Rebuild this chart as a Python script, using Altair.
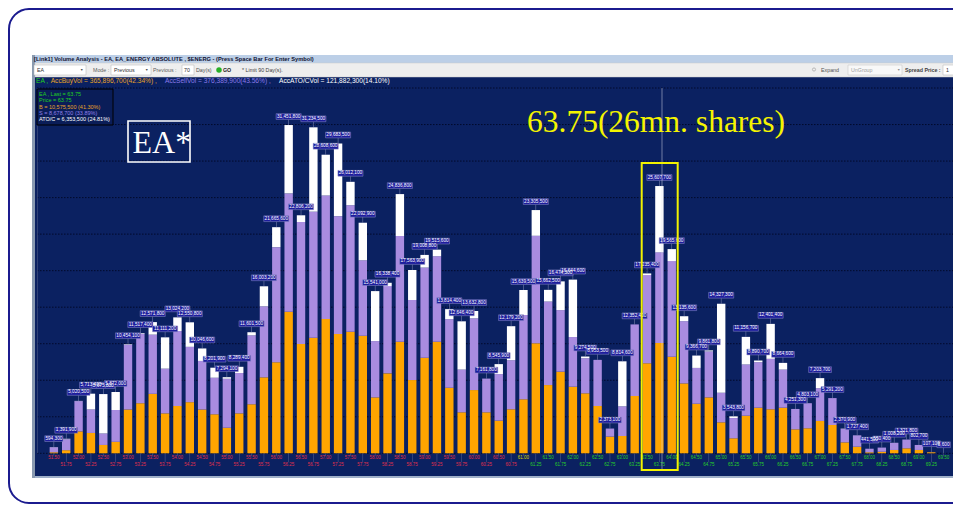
import altair as alt
import pandas as pd

# ---------------- data ----------------
price_labels = ["51.50", "51.75", "52.00", "52.25", "52.50", "52.75", "53.00", "53.25", "53.50", "53.75",
                "54.00", "54.25", "54.50", "54.75", "55.00", "55.25", "55.50", "55.75", "56.00", "56.25",
                "56.50", "56.75", "57.00", "57.25", "57.50", "57.75", "58.00", "58.25", "58.50", "58.75",
                "59.00", "59.25", "59.50", "59.75", "60.00", "60.25", "60.50", "60.75", "61.00", "61.25",
                "61.50", "61.75", "62.00", "62.25", "62.50", "62.75", "63.00", "63.25", "63.50", "63.75",
                "64.00", "64.25", "64.50", "64.75", "65.00", "65.25", "65.50", "65.75", "66.00", "66.25",
                "66.50", "66.75", "67.00", "67.25", "67.50", "67.75", "68.00", "68.25", "68.50", "68.75",
                "69.00", "69.25", "69.50"]

total_vol = [594300, 1391900, 5020500, 5713400, 5675800, 5872000, 10454100, 11517400, 12571800, 11111200,
             13024200, 12550800, 10046600, 8201900, 7294100, 8289400, 11601500, 16003200, 21665600, 31451800,
             22806200, 31234500, 28608600, 29683500, 26012100, 22092900, 15541000, 16338400, 24836800, 17563900,
             19008800, 19515600, 13814400, 12646400, 13632800, 7161800, 8545900, 12179200, 15639500, 23305500,
             15662500, 16474300, 16644600, 9274500, 8953500, 2373100, 8814600, 12352400, 17235400, 25607700,
             19565600, 13135600, 9366700, 9861800, 14327300, 3543800, 11156700, 8890700, 12401400, 8664600,
             4251300, 4803100, 7203700, 5291200, 2370900, 1727400, 441500, 550400, 1008200, 1321800,
             802700, 107100, 5600]

buy_vol = [100000, 300000, 2100000, 1950000, 800000, 1100000, 4200000, 4800000, 5700000, 3830000,
           4530000, 4900000, 4200000, 3740000, 2450000, 3830000, 4700000, 7280000, 8720000, 13560000,
           10470000, 11070000, 12860000, 11430000, 11650000, 11260000, 5360000, 7660000, 10690000, 7020000,
           9160000, 10690000, 6280000, 3930000, 6060000, 3930000, 3130000, 4220000, 5170000, 10540000,
           6540000, 7820000, 6380000, 5750000, 4530000, 1600000, 1660000, 5490000, 8620000, 10575500,
           9250000, 6700000, 4750000, 5360000, 2970000, 1440000, 3600000, 4370000, 4220000, 4370000,
           2300000, 2400000, 3100000, 2710000, 1050000, 630000, 100000, 150000, 320000, 480000,
           320000, 100000, 3000]

sell_vol = [480000, 1050000, 2900000, 2250000, 1100000, 3050000, 6200000, 6650000, 5670000, 4280000,
            7190000, 5300000, 4650000, 3500000, 4690000, 3860000, 6600000, 6800000, 11030000, 11340000,
            11690000, 12080000, 11840000, 11290000, 12120000, 7230000, 5390000, 8360000, 10130000, 7670000,
            8630000, 8190000, 6570000, 4090000, 6870000, 3230000, 4460000, 4700000, 8070000, 10300000,
            8000000, 5900000, 4760000, 3360000, 4420000, 770000, 2840000, 6860000, 8460000, 8678700,
            9170000, 5960000, 3430000, 4400000, 2830000, 1940000, 4910000, 4360000, 4830000, 3650000,
            1950000, 2400000, 3140000, 2580000, 1300000, 1090000, 340000, 400000, 680000, 840000,
            480000, 7000, 2600]

grid_values = [0, 3500000, 7000000, 10500000, 14000000, 17500000, 21000000, 24500000, 28000000, 31500000, 35000000]
last_price = 61.00  # reference (yellow) price on the axis

header_title = "[Link1] Volume Analysis - EA, EA_ENERGY ABSOLUTE , $ENERG - (Press Space Bar For Enter Symbol)"
stat_buy = "AccBuyVol = 365,896,700(42.34%) ,"
stat_sell = "AccSellVol = 376,389,900(43.56%) ,"
stat_ato = "AccATO/CVol = 121,882,300(14.10%)"
info_lines = ["EA , Last = 63.75", "Price = 63.75", "B = 10,575,500 (41.30%)",
              "S = 8,678,700 (33.89%)", "ATO/C = 6,353,500 (24.81%)"]
annotation = "63.75(26mn. shares)"

# ---------------- tables ----------------
rows = []
seg_rows = []
for i, lab in enumerate(price_labels):
    p = float(lab)
    t, b, s = total_vol[i], buy_vol[i], sell_vol[i]
    txt = f"{t:,}"
    pc = "lo" if p < last_price else ("eq" if p == last_price else "hi")
    rows.append({"price": p, "plabel": lab, "total": t, "label": txt, "nlen": str(len(txt)),
                 "row": i % 2, "pc": pc, "zero": 0})
    seg_rows.append({"price": p, "seg": "buy", "y0": 0, "y1": b})
    seg_rows.append({"price": p, "seg": "sell", "y0": b, "y1": b + s})
    seg_rows.append({"price": p, "seg": "ato", "y0": b + s, "y1": t})
df = pd.DataFrame(rows)
segs = pd.DataFrame(seg_rows)
grid_df = pd.DataFrame({"v": grid_values})
info_df = pd.DataFrame({"line": info_lines, "k": list(range(len(info_lines)))})

W, H = 945, 497
xs = alt.Scale(domain=[50.6733, 69.5885], nice=False, zero=False)
ys = alt.Scale(domain=[-4953000, 42666000], nice=False, zero=False)

one = pd.DataFrame({"k": [0]})
UI = "Liberation Sans"


def rect(x, y, x2, y2, **kw):
    return alt.Chart(one).mark_rect(**kw).encode(
        x=alt.value(x), y=alt.value(y), x2=alt.value(x2), y2=alt.value(y2))


def label(x, y, s, size=5.3, color="#303030", **kw):
    return alt.Chart(one).mark_text(text=s, align="left", baseline="middle", font=UI,
                                    fontSize=size, color=color, **kw).encode(
        x=alt.value(x), y=alt.value(y))


layers = []
# outer rounded frame
layers.append(rect(1, 1, 975, 495, fill="transparent", stroke="#1b1b8f", strokeWidth=2, cornerRadius=20))
# application window
layers.append(rect(24, 47, 953, 470, fill="#0b2161"))
layers.append(rect(24, 47, 27, 470, fill="#8a9ab0"))
layers.append(rect(27, 47, 953, 55, fill="#bccfe7"))
layers.append(rect(946, 47, 953, 54, fill="#1830a0"))
layers.append(label(26, 51, header_title, size=5.7, color="#101030", fontWeight="bold"))
layers.append(rect(27, 55, 953, 69, fill="#eeeeee", stroke="#c8c8c8", strokeWidth=0.5))
layers.append(rect(27, 468, 953, 470, fill="#9fb0c8"))
# toolbar controls
layers.append(rect(26, 57, 78, 67, fill="white", stroke="#b0b0b0", strokeWidth=0.5))
layers.append(label(29, 62, "EA"))
layers.append(label(72, 62, "▼", size=3.5, color="#505050"))
layers.append(label(85, 62, "Mode :", color="#606060"))
layers.append(rect(103, 57, 143, 67, fill="white", stroke="#b0b0b0", strokeWidth=0.5))
layers.append(label(106, 62, "Previous"))
layers.append(label(137, 62, "▼", size=3.5, color="#505050"))
layers.append(label(145, 62, "Previous :", color="#606060"))
layers.append(rect(174, 57, 186, 67, fill="white", stroke="#b0b0b0", strokeWidth=0.5))
layers.append(label(176, 62, "70"))
layers.append(label(188, 62, "Day(s)", color="#505050"))
layers.append(alt.Chart(one).mark_point(shape="circle", filled=True, color="#28b028", size=30, opacity=1).encode(
    x=alt.value(211), y=alt.value(62)))
layers.append(label(215, 62, "GO", fontWeight="bold", color="#202020"))
layers.append(label(234, 62, "* Limit 90 Day(s).", color="#404040"))
layers.append(alt.Chart(one).mark_point(shape="circle", filled=False, color="#909090", size=10, strokeWidth=0.8).encode(
    x=alt.value(806), y=alt.value(61.5)))
layers.append(label(813, 62, "Expand", color="#505050"))
layers.append(rect(840, 57, 894, 67, fill="#f8f8f8", stroke="#c0c0c0", strokeWidth=0.5))
layers.append(label(843, 62, "UnGroup", color="#a0a0a0"))
layers.append(label(889, 62, "▼", size=3.5, color="#909090"))
layers.append(label(897, 62, "Spread Price :", color="#404040", fontWeight="bold"))
layers.append(rect(935, 57, 960, 67, fill="white", stroke="#b0b0b0", strokeWidth=0.5))
layers.append(label(938, 62, "1"))
# accumulated stats line
layers.append(label(28, 73, "EA ,", size=6.6, color="#20d020"))
layers.append(label(42.7, 73, stat_buy, size=6.6, color="#e8a428"))
layers.append(label(157, 73, stat_sell, size=6.6, color="#8a7ae8"))
layers.append(label(271, 73, stat_ato, size=6.6, color="#ffffff"))

# grid and y axis line
layers.append(alt.Chart(grid_df).mark_rule(color="#020a2c", strokeWidth=1, strokeDash=[1.5, 1.5]).encode(
    y=alt.Y("v:Q", scale=ys, axis=None), x=alt.value(29), x2=alt.value(945)))
layers.append(rect(29, 80, 29.8, 445.3, fill="#3a4a7a"))

# info box
layers.append(rect(29, 81, 105, 117, fill="#0a1d58", stroke="#000000", strokeWidth=1))
layers.append(alt.Chart(info_df).mark_text(align="left", baseline="middle", font=UI, fontSize=5.5).encode(
    x=alt.value(31),
    y=alt.Y("k:O", scale=alt.Scale(range=[86, 111.3], padding=0), axis=None),
    text="line:N",
    color=alt.Color("k:O", scale=alt.Scale(domain=[0, 1, 2, 3, 4],
                                           range=["#20d020", "#20d020", "#e8a428", "#9080e8", "#ffffff"]),
                    legend=None)))
# EA* badge
layers.append(rect(120, 113, 182, 154, fill="transparent", stroke="#ffffff", strokeWidth=1.6))
layers.append(alt.Chart(one).mark_text(text="EA*", align="left", baseline="alphabetic", font="Liberation Serif",
                                       fontSize=32, color="#ffffff").encode(x=alt.value(124.5), y=alt.value(144.5)))

# stacked bars
layers.append(alt.Chart(segs).mark_bar(size=8.4).encode(
    x=alt.X("price:Q", scale=xs, axis=None),
    y=alt.Y("y0:Q", scale=ys, axis=None),
    y2="y1:Q",
    color=alt.Color("seg:N", scale=alt.Scale(domain=["buy", "sell", "ato"],
                                            range=["#ffa500", "#a98ce0", "#ffffff"]), legend=None)))


def box_path(w, h=5.8, r=13.0):
    hx, hy = w / 2 / r, h / 2 / r
    return f"M{-hx:.3f},{-hy:.3f}L{hx:.3f},{-hy:.3f}L{hx:.3f},{hy:.3f}L{-hx:.3f},{hy:.3f}Z"


len_dom = ["5", "7", "9", "10"]
len_rng = [box_path(13.5), box_path(18.2), box_path(22.8), box_path(25.1)]

# value labels above bars
layers.append(alt.Chart(df).mark_tick(orient="vertical", size=5.6, thickness=0.6, color="#a0a4c8", yOffset=-2.8).encode(
    x=alt.X("price:Q", scale=xs, axis=None), y=alt.Y("total:Q", scale=ys, axis=None)))
layers.append(alt.Chart(df).mark_point(filled=True, fill="#1d1d9c", stroke="#8e90c8", strokeWidth=0.5,
                                       opacity=1, size=676, yOffset=-8.5).encode(
    x=alt.X("price:Q", scale=xs, axis=None), y=alt.Y("total:Q", scale=ys, axis=None),
    shape=alt.Shape("nlen:N", scale=alt.Scale(domain=len_dom, range=len_rng), legend=None)))
layers.append(alt.Chart(df).mark_text(font=UI, fontSize=4.7, color="#ffffff", baseline="middle", dy=-8.5).encode(
    x=alt.X("price:Q", scale=xs, axis=None), y=alt.Y("total:Q", scale=ys, axis=None), text="label:N"))

# price axis (two staggered rows)
pcol = alt.Color("pc:N", scale=alt.Scale(domain=["lo", "eq", "hi"], range=["#e0304c", "#d8d800", "#28d028"]),
                 legend=None)
for r, (tk, dy) in enumerate([(3.0, 4.3), (9.0, 11.3)]):
    sub = alt.Chart(df).transform_filter(alt.datum.row == r)
    layers.append(sub.mark_tick(orient="vertical", size=tk, thickness=0.5, color="#7880a8",
                                yOffset=tk / 2, strokeDash=[1, 1]).encode(
        x=alt.X("price:Q", scale=xs, axis=None), y=alt.Y("zero:Q", scale=ys, axis=None)))
    layers.append(sub.mark_text(font=UI, fontSize=4.5, baseline="middle", dy=dy).encode(
        x=alt.X("price:Q", scale=xs, axis=None), y=alt.Y("zero:Q", scale=ys, axis=None),
        text="plabel:N", color=pcol))

# highlight annotation
layers.append(rect(653.6, 80, 654.4, 462, fill="#e0e0f0", opacity=0.6))
layers.append(rect(633.7, 155, 669.7, 462, fill="transparent", stroke="#f2f200", strokeWidth=2))
layers.append(alt.Chart(one).mark_text(text=annotation, align="left", baseline="alphabetic",
                                       font="Liberation Serif", fontSize=31.5, color="#f4f400").encode(
    x=alt.value(519), y=alt.value(124)))

chart = alt.layer(*layers).resolve_scale(color="independent", y="shared").properties(
    width=W, height=H, padding=0, autosize=alt.AutoSizeParams(type="none"), background="white"
).configure_view(stroke="transparent")

chart.save("out.html", embed_options={"renderer": "svg", "actions": False})
